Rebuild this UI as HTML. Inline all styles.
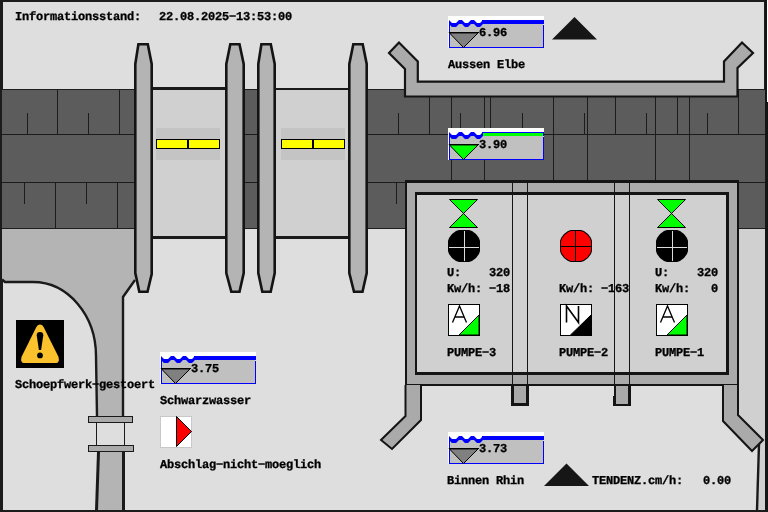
<!DOCTYPE html>
<html><head><meta charset="utf-8">
<style>
html,body{margin:0;padding:0;width:768px;height:512px;overflow:hidden;background:#dedede}
svg{display:block;will-change:transform}
text{font-family:"Liberation Mono",monospace;font-weight:bold;font-size:12px;letter-spacing:-0.2px;fill:#000;stroke:#000;stroke-width:0.3px;text-rendering:geometricPrecision}
</style></head><body>
<svg width="768" height="512" viewBox="0 0 768 512">
<!-- background -->
<rect x="0" y="0" width="768" height="512" fill="#dedede"/>
<!-- top panel highlight -->

<!-- band -->
<rect x="2" y="89" width="763" height="140" fill="#5c5c5c"/>
<rect x="2" y="89" width="763" height="1" fill="#1e1e1e"/>
<rect x="2" y="228" width="763" height="1" fill="#1e1e1e"/>
<g fill="#1c1c1c" shape-rendering="crispEdges">
  <!-- left section -->
  <rect x="2" y="134" width="132" height="1"/>
  <rect x="2" y="182" width="132" height="1"/>
  <rect x="57" y="90" width="1" height="44"/>
  <rect x="119" y="90" width="1" height="44"/>
  <rect x="27" y="113" width="1" height="21"/>
  <rect x="88" y="113" width="1" height="21"/>
  <rect x="55" y="183" width="1" height="45"/>
  <rect x="117" y="183" width="1" height="45"/>
  <rect x="24" y="183" width="1" height="21"/>
  <rect x="86" y="183" width="1" height="21"/>
  <!-- middle -->
  <rect x="245" y="134" width="12" height="1"/>
  <rect x="245" y="182" width="12" height="1"/>
  <!-- right section -->
  <rect x="368" y="134" width="397" height="1"/>
  <rect x="368" y="182" width="37" height="1"/>
  <rect x="738" y="182" width="27" height="1"/>
  <rect x="429" y="97" width="1" height="37"/>
  <rect x="451" y="97" width="1" height="84"/>
  <rect x="484" y="97" width="1" height="84"/>
  <rect x="490" y="97" width="1" height="37"/>
  <rect x="553" y="97" width="1" height="84"/>
  <rect x="587" y="97" width="1" height="84"/>
  <rect x="615" y="97" width="1" height="37"/>
  <rect x="655" y="97" width="1" height="84"/>
  <rect x="677" y="97" width="1" height="37"/>
  <rect x="689" y="97" width="1" height="84"/>
  <rect x="738" y="90" width="1" height="44"/>
  <rect x="398" y="113" width="1" height="21"/>
  <rect x="460" y="113" width="1" height="21"/>
  <rect x="522" y="113" width="1" height="21"/>
  <rect x="584" y="113" width="1" height="21"/>
  <rect x="646" y="113" width="1" height="21"/>
  <rect x="707" y="113" width="1" height="21"/>
  <rect x="396" y="183" width="1" height="21"/>
</g>

<!-- right channel -->
<path d="M739,229 L765,229 L765,510 L757,510 L759,444 L762,441 L739,418 Z" fill="#d0d0d0"/>
<path d="M759,444 L757,510" stroke="#1a1a1a" stroke-width="2.4" fill="none"/>

<!-- left channel -->
<path d="M2,229 L135,229 L135,280 L123,297 L123,416 L97,416 L96,356 A63,74 0 0 0 33,282 L5,282 L2,279.5 Z" fill="#b4b4b4"/>
<path d="M2,279.5 L5,282 L33,282 A63,74 0 0 1 96,356 L97,416" stroke="#1a1a1a" stroke-width="2.4" fill="none"/>
<path d="M135,280 L123,297 L123,416" stroke="#1a1a1a" stroke-width="2.4" fill="none"/>
<!-- sluice -->
<rect x="96" y="423" width="29" height="22" fill="#dedede"/>
<rect x="96" y="423" width="1" height="22" fill="#1a1a1a"/>
<rect x="124" y="423" width="1" height="22" fill="#1a1a1a"/>
<rect x="88.5" y="416.5" width="44" height="6" fill="#aaaaaa" stroke="#1a1a1a" stroke-width="1"/>
<rect x="88.5" y="445.5" width="45" height="6" fill="#aaaaaa" stroke="#1a1a1a" stroke-width="1"/>
<path d="M98,452 L96,510 L124,510 L124,452 Z" fill="#b4b4b4"/>
<path d="M98.5,452 L96.5,510" stroke="#1a1a1a" stroke-width="3" fill="none"/>
<rect x="122" y="452" width="3" height="58" fill="#1a1a1a"/>

<!-- chambers -->
<rect x="153" y="87" width="72" height="152" fill="#d0d0d0"/>
<rect x="153" y="87" width="72" height="3" fill="#1a1a1a"/>
<rect x="153" y="236" width="72" height="3" fill="#1a1a1a"/>
<rect x="276" y="88" width="72" height="151" fill="#d0d0d0"/>
<rect x="276" y="88" width="72" height="2" fill="#1a1a1a"/>
<rect x="276" y="236" width="72" height="3" fill="#1a1a1a"/>
<rect x="156" y="128" width="64" height="32" fill="#c4c4c4"/>
<rect x="281" y="128" width="64" height="32" fill="#c4c4c4"/>
<rect x="156.5" y="139.5" width="63" height="9" fill="#ffff00" stroke="#000" stroke-width="1"/>
<rect x="187" y="139" width="2" height="10" fill="#000"/>
<rect x="281.5" y="139.5" width="63" height="9" fill="#ffff00" stroke="#000" stroke-width="1"/>
<rect x="312" y="139" width="2" height="10" fill="#000"/>

<!-- pillars -->
<g fill="#b4b4b4" stroke="#141414" stroke-width="2.6" stroke-linejoin="miter">
  <path d="M135.3,64 L138.4,44.3 L147.8,44.3 L151.7,64 L151.7,274 L147.5,291.7 L139.3,291.7 L135.3,273 Z"/>
  <path d="M226.3,64 L230.3,44.3 L239.5,44.3 L243.7,64 L243.7,273 L239.5,291.7 L231.3,291.7 L226.3,273 Z"/>
  <path d="M258.3,64 L261.4,44.3 L270.8,44.3 L274.7,64 L274.7,273 L270.7,291.7 L262.3,291.7 L258.3,273 Z"/>
  <path d="M349.3,64 L353.3,44.3 L362.7,44.3 L366.7,64 L366.7,273 L362.5,291.7 L354,291.7 L349.3,273 Z"/>
</g>

<!-- dike (top wall) -->
<path d="M399,42.5 L389,53 L405,69 L405,96.5 L737.5,96.5 L737.5,68 L753,53 L742,42.5 L724,61.5 L724,81.7 L417.8,81.7 L417.8,61.5 Z" fill="#aaaaaa" stroke="#141414" stroke-width="2.2" stroke-linejoin="miter"/>

<!-- building -->
<rect x="405" y="180" width="334" height="206" fill="#aaaaaa"/>
<g fill="#141414">
  <rect x="405" y="180" width="334" height="3"/>
  <rect x="405" y="384" width="334" height="2"/>
  <rect x="405" y="180" width="2" height="206"/>
  <rect x="737" y="180" width="2" height="206"/>
  <rect x="415" y="192" width="314" height="183"/>
</g>
<rect x="417" y="195" width="309" height="177" fill="#d0d0d0"/>
<g fill="#141414">
  <rect x="512" y="182" width="1" height="203"/>
  <rect x="527" y="182" width="1" height="203"/>
  <rect x="614" y="182" width="1" height="203"/>
  <rect x="629" y="182" width="1" height="203"/>
</g>
<rect x="511" y="384" width="18" height="22" fill="#141414"/>
<rect x="514" y="386" width="12" height="17" fill="#aaaaaa"/>
<rect x="613" y="384" width="18" height="22" fill="#141414"/>
<rect x="616" y="386" width="12" height="18" fill="#aaaaaa"/>
<rect x="613" y="386" width="1" height="10" fill="#dedede"/>
<!-- legs -->
<path d="M405.5,385 L405.5,416 L381,440 L392,449 L421,420 L421,385" fill="#aaaaaa" stroke="#141414" stroke-width="2"/>
<path d="M723,385 L723,421 L752,451 L763,440 L738,415 L738,385" fill="#aaaaaa" stroke="#141414" stroke-width="2"/>

<!-- pump 3 -->
<g stroke="#000" stroke-width="1" fill="#00ff00">
  <path d="M449.5,199.5 L477.5,199.5 L463.5,213.5 Z"/>
  <path d="M463.5,213.5 L477.5,227.5 L449.5,227.5 Z"/>
  <path d="M657.5,199.5 L685.5,199.5 L671.5,213.5 Z"/>
  <path d="M671.5,213.5 L685.5,227.5 L657.5,227.5 Z"/>
</g>
<polygon points="11,0 21,0 24,1 28,4 31,8 32,11 32,21 31,24 28,28 24,31 21,32 11,32 8,31 4,28 1,24 0,21 0,11 1,8 4,4 8,1" transform="translate(448,230)" fill="#000"/>
<rect x="464" y="231" width="1" height="30" fill="#dcdcdc"/>
<rect x="449" y="247" width="30" height="1" fill="#dcdcdc"/>
<polygon points="11,0 21,0 24,1 28,4 31,8 32,11 32,21 31,24 28,28 24,31 21,32 11,32 8,31 4,28 1,24 0,21 0,11 1,8 4,4 8,1" transform="translate(656,230)" fill="#000"/>
<rect x="672" y="231" width="1" height="30" fill="#dcdcdc"/>
<rect x="657" y="247" width="30" height="1" fill="#dcdcdc"/>
<polygon points="11,0 21,0 24,1 28,4 31,8 32,11 32,21 31,24 28,28 24,31 21,32 11,32 8,31 4,28 1,24 0,21 0,11 1,8 4,4 8,1" transform="translate(560,230)" fill="#000"/>
<polygon points="11,0 21,0 24,1 28,4 31,8 32,11 32,21 31,24 28,28 24,31 21,32 11,32 8,31 4,28 1,24 0,21 0,11 1,8 4,4 8,1" transform="translate(576,246) scale(0.9375) translate(-16,-16)" fill="#ff0000"/>
<rect x="575" y="231" width="1" height="31" fill="#000"/>
<rect x="561" y="246" width="31" height="1" fill="#000"/>

<!-- mode icons -->
<rect x="448.5" y="304.5" width="31" height="31" fill="#fff" stroke="#000" stroke-width="1"/>
<path d="M459,335 L479,315 L479,335 Z" fill="#00ff00" stroke="#000" stroke-width="1"/>
<path d="M452.5,322.5 L459.5,306 L466.5,322.5 M454.8,317 L464.2,317" stroke="#000" stroke-width="1.3" fill="none"/>
<rect x="560.5" y="304.5" width="31" height="31" fill="#fff" stroke="#000" stroke-width="1"/>
<path d="M570.5,335 L591,315 L591,335 Z" fill="#000" stroke="#000" stroke-width="1"/>
<path d="M566.5,322.5 L566.5,306 L578.5,322.5 L578.5,306" stroke="#000" stroke-width="1.6" fill="none"/>
<rect x="656.5" y="304.5" width="31" height="31" fill="#fff" stroke="#000" stroke-width="1"/>
<path d="M667,335 L687,315 L687,335 Z" fill="#00ff00" stroke="#000" stroke-width="1"/>
<path d="M660.5,322.5 L667.5,306 L674.5,322.5 M662.8,317 L672.2,317" stroke="#000" stroke-width="1.3" fill="none"/>

<!-- warning icon -->
<rect x="16" y="320" width="48" height="48" fill="#000"/>
<path d="M40,324.6 Q42.2,324.6 43.6,327 L58.2,356.2 Q60.6,363 55.6,363 L24.4,363 Q19.4,363 21.8,356.2 L36.4,327 Q37.8,324.6 40,324.6 Z" fill="#fbc22d"/>
<path d="M36.7,335.3 Q36.7,332 40,332 Q43.3,332 43.3,335.3 L41.1,350 L38.9,350 Z" fill="#000"/>
<circle cx="40" cy="355.4" r="2.9" fill="#000"/>

<!-- abschlag icon -->
<rect x="160.5" y="416.5" width="31" height="31" fill="#fff" stroke="#c8c8c8" stroke-width="1"/>
<path d="M176.5,416.5 L191.5,431.5 L176.5,446.5 Z" fill="#ff0000" stroke="#000" stroke-width="1"/>

<!-- triangles -->
<path d="M552,39.5 L574.5,17 L597,39.5 Z" fill="#161616"/>
<path d="M544,486 L566.5,463.5 L589,486 Z" fill="#161616"/>

<!-- level boxes -->
<g transform="translate(448,16)">
  <rect x="0" y="0" width="96" height="32" fill="#fff"/>
  <rect x="1" y="8" width="95" height="24" fill="#0000ff"/>
  <rect x="2" y="8" width="93" height="23" fill="#c0c0c0"/><rect x="95" y="8" width="1" height="1" fill="#d8d8d8"/>
  <rect x="34" y="4" width="62" height="4" fill="#0000ff"/>
  <path d="M1,4 L4,7 L8,7 L11,4 L14,4 L17,7 L20,7 L23,4 L26,4 L29,7 L32,7 L35,4 L35,8 L32,11 L29,11 L26,8 L23,8 L20,11 L17,11 L14,8 L11,8 L8,11 L4,11 L1,8 Z" fill="#0000ff"/>
  <path d="M1,16.5 L30.5,16.5 L15.5,31.5 Z" fill="#808080" stroke="#000" stroke-width="1"/>
  <rect x="1" y="16" width="30" height="1" fill="#000"/><rect x="2" y="17" width="28" height="1" fill="#000" fill-opacity="0.45"/>
  <text x="31" y="20">6.96</text>
</g>
<g transform="translate(448,128)">
  <rect x="0" y="0" width="96" height="32" fill="#fff"/>
  <rect x="1" y="8" width="95" height="24" fill="#0000ff"/>
  <rect x="2" y="8" width="93" height="23" fill="#c0c0c0"/><rect x="95" y="8" width="1" height="1" fill="#d8d8d8"/>
  <rect x="34" y="4" width="62" height="4" fill="#0000ff"/>
  <rect x="35" y="5" width="60" height="3" fill="#00ff00"/>
  <path d="M1,4 L4,7 L8,7 L11,4 L14,4 L17,7 L20,7 L23,4 L26,4 L29,7 L32,7 L35,4 L35,8 L32,11 L29,11 L26,8 L23,8 L20,11 L17,11 L14,8 L11,8 L8,11 L4,11 L1,8 Z" fill="#0000ff"/>
  <path d="M1,16.5 L30.5,16.5 L15.5,31.5 Z" fill="#00ff00" stroke="#000" stroke-width="1"/>
  <rect x="1" y="16" width="30" height="1" fill="#000"/><rect x="2" y="17" width="28" height="1" fill="#000" fill-opacity="0.45"/>
  <text x="31" y="20">3.90</text>
</g>
<g transform="translate(160,352)">
  <rect x="0" y="0" width="96" height="32" fill="#fff"/>
  <rect x="1" y="8" width="95" height="24" fill="#0000ff"/>
  <rect x="2" y="8" width="93" height="23" fill="#c0c0c0"/><rect x="95" y="8" width="1" height="1" fill="#d8d8d8"/>
  <rect x="34" y="4" width="62" height="4" fill="#0000ff"/>
  <path d="M1,4 L4,7 L8,7 L11,4 L14,4 L17,7 L20,7 L23,4 L26,4 L29,7 L32,7 L35,4 L35,8 L32,11 L29,11 L26,8 L23,8 L20,11 L17,11 L14,8 L11,8 L8,11 L4,11 L1,8 Z" fill="#0000ff"/>
  <path d="M1,16.5 L30.5,16.5 L15.5,31.5 Z" fill="#808080" stroke="#000" stroke-width="1"/>
  <rect x="1" y="16" width="30" height="1" fill="#000"/><rect x="2" y="17" width="28" height="1" fill="#000" fill-opacity="0.45"/>
  <text x="31" y="20">3.75</text>
</g>
<g transform="translate(448,432)">
  <rect x="0" y="0" width="96" height="32" fill="#fff"/>
  <rect x="1" y="8" width="95" height="24" fill="#0000ff"/>
  <rect x="2" y="8" width="93" height="23" fill="#c0c0c0"/><rect x="95" y="8" width="1" height="1" fill="#d8d8d8"/>
  <rect x="34" y="4" width="62" height="4" fill="#0000ff"/>
  <path d="M1,4 L4,7 L8,7 L11,4 L14,4 L17,7 L20,7 L23,4 L26,4 L29,7 L32,7 L35,4 L35,8 L32,11 L29,11 L26,8 L23,8 L20,11 L17,11 L14,8 L11,8 L8,11 L4,11 L1,8 Z" fill="#0000ff"/>
  <path d="M1,16.5 L30.5,16.5 L15.5,31.5 Z" fill="#808080" stroke="#000" stroke-width="1"/>
  <rect x="1" y="16" width="30" height="1" fill="#000"/><rect x="2" y="17" width="28" height="1" fill="#000" fill-opacity="0.45"/>
  <text x="31" y="20">3.73</text>
</g>

<!-- texts -->
<text x="15" y="20">Informationsstand:</text>
<text x="159" y="20">22.08.2025&#8722;13:53:00</text>
<text x="448" y="68">Aussen Elbe</text>
<text x="447" y="276" xml:space="preserve">U:    320</text>
<text x="447" y="292">Kw/h: &#8722;18</text>
<text x="559" y="292">Kw/h: &#8722;163</text>
<text x="655" y="276" xml:space="preserve">U:    320</text>
<text x="655" y="292" xml:space="preserve">Kw/h:   0</text>
<text x="447" y="356">PUMPE&#8722;3</text>
<text x="559" y="356">PUMPE&#8722;2</text>
<text x="655" y="356">PUMPE&#8722;1</text>
<text x="15" y="388">Schoepfwerk&#8722;gestoert</text>
<text x="160" y="404">Schwarzwasser</text>
<text x="160" y="468">Abschlag&#8722;nicht&#8722;moeglich</text>
<text x="447" y="484">Binnen Rhin</text>
<text x="592" y="484">TENDENZ.cm/h:</text>
<text x="703" y="484">0.00</text>

<!-- page border -->
<rect x="0" y="0" width="768" height="2" fill="#1c1c1c"/>
<rect x="0" y="0" width="2" height="512" fill="#1c1c1c"/>
<rect x="2" y="0" width="1" height="89" fill="#1c1c1c"/>
<rect x="2" y="280" width="1" height="232" fill="#1c1c1c"/>
<rect x="764" y="0" width="1" height="89" fill="#1c1c1c"/>
<rect x="765" y="0" width="3" height="512" fill="#141414"/>
<rect x="767" y="0" width="1" height="102" fill="#ffffff"/>
<rect x="0" y="510" width="768" height="2" fill="#1c1c1c"/>
</svg>
</body></html>
